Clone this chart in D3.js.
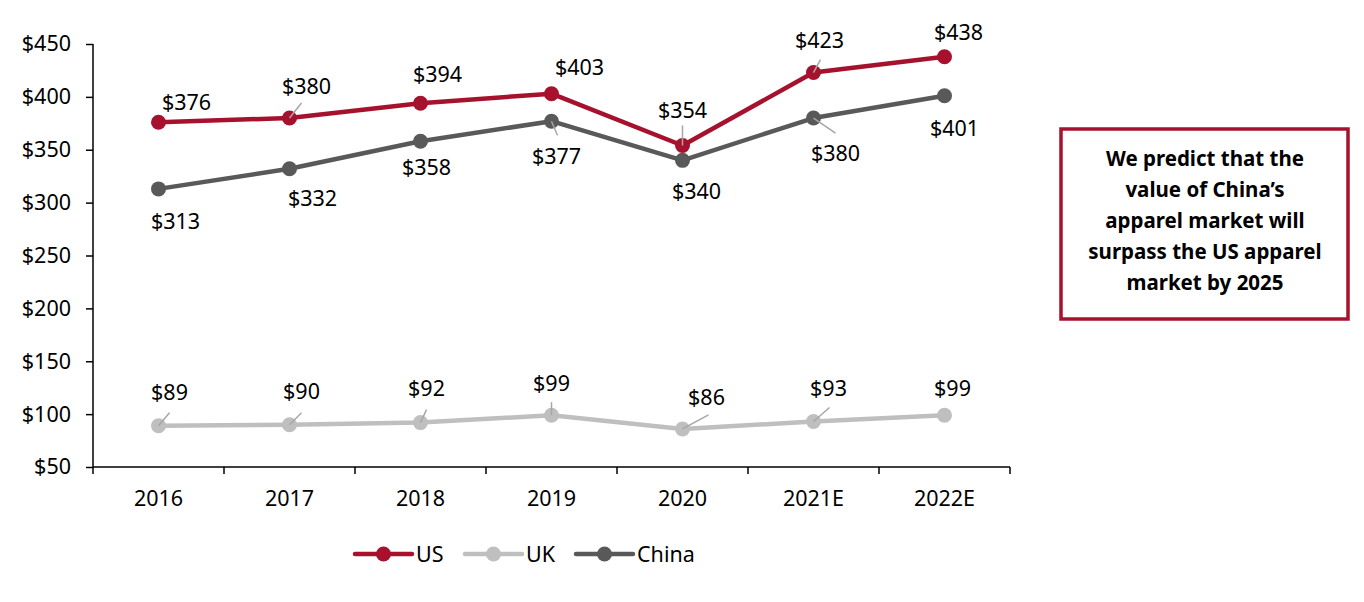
<!DOCTYPE html>
<html>
<head>
<meta charset="utf-8">
<script src="https://cdn.jsdelivr.net/npm/d3@7"></script>
<style>
  body { margin: 0; background: #fff; }
  svg { display: block; font-family: "Noto Sans", "Open Sans", sans-serif; }
  .axis path, .axis line { stroke: #000; stroke-width: 1.5; }
  .axis text { font-family: "Noto Sans", "Open Sans", sans-serif; font-size: 21.5px; fill: #000; }
  .lbl { font-size: 21.5px; fill: #000; }
  .leader { stroke: #a6a6a6; stroke-width: 1.5; }
</style>
</head>
<body>
<svg id="chart"></svg>
<script>
const years = ['2016', '2017', '2018', '2019', '2020', '2021E', '2022E']
const us = [376, 380, 394, 403, 354, 423, 438]
const uk = [89, 90, 92, 99, 86, 93, 99]
const china = [313, 332, 358, 377, 340, 380, 401]
const yTicks = [50, 100, 150, 200, 250, 300, 350, 400, 450]
const note = ['We predict that the', 'value of China\u2019s', 'apparel market will',
    'surpass the US apparel', 'market by 2025']

// label placement: text offset [dx, dy] and optional leader line end [lx, ly]
const usLabels = [
    { t: [28, -20] }, { t: [17, -32], l: [12, -15] }, { t: [17, -29] }, { t: [28, -26] },
    { t: [0, -35], l: [0, -20] }, { t: [6, -32], l: [7, -13] }, { t: [14, -24] }
]
const ukLabels = [
    { t: [11, -33], l: [11, -13] }, { t: [12, -33], l: [12, -12] }, { t: [6, -34], l: [6, -13] },
    { t: [0, -32], l: [0, -13] }, { t: [24, -32], l: [26, -14] }, { t: [15, -33], l: [16, -14] },
    { t: [8, -27] }
]
const chinaLabels = [
    { t: [17, 32] }, { t: [23, 29] }, { t: [6, 26] }, { t: [5, 35], l: [6, 14] },
    { t: [14, 31] }, { t: [22, 35], l: [22, 15] }, { t: [10, 32] }
]

const series = [
    { name: 'US', values: us, color: '#a6122d', labels: usLabels },
    { name: 'UK', values: uk, color: '#bfbfbf', labels: ukLabels },
    { name: 'China', values: china, color: '#595959', labels: chinaLabels }
]

const W = 1364, H = 602
const svg = d3.select('#chart').attr('width', W).attr('height', H)

const x = d3.scaleBand().domain(years).range([93, 1010])
const y = d3.scaleLinear().domain([50, 450]).range([467, 44])
const cx = d => x(d) + x.bandwidth() / 2

// Y axis
svg.append('g').classed('axis', true)
    .attr('transform', 'translate(93,0)')
    .call(d3.axisLeft(y).tickValues(yTicks).tickSize(7).tickPadding(15)
        .tickFormat(d => '$' + d))
    .call(g => g.select('.domain').attr('d', `M0,${y(450)}V${y(50)}`))

// X axis with ticks at band boundaries
const xAxis = svg.append('g').classed('axis', true)
    .attr('transform', `translate(0,${y(50)})`)
xAxis.append('line').attr('x1', 93).attr('x2', 1010).attr('y1', 0).attr('y2', 0)
xAxis.selectAll('line.tk')
    .data(years.map(d => x(d)).concat([x.range()[1]]))
    .enter().append('line').classed('tk', true)
    .attr('x1', d => d).attr('x2', d => d).attr('y1', 0).attr('y2', 7)
xAxis.selectAll('text')
    .data(years)
    .enter().append('text')
    .attr('x', d => cx(d)).attr('y', 39)
    .attr('text-anchor', 'middle')
    .text(d => d)

const line = d3.line().x((d, i) => cx(years[i])).y(d => y(d))

series.forEach(s => {
    const g = svg.append('g')
    g.append('path')
        .attr('d', line(s.values))
        .attr('fill', 'none')
        .attr('stroke', s.color)
        .attr('stroke-width', 4.5)
        .attr('stroke-linejoin', 'round')
    g.selectAll('circle')
        .data(s.values)
        .enter().append('circle')
        .attr('cx', (d, i) => cx(years[i]))
        .attr('cy', d => y(d))
        .attr('r', 7.5)
        .attr('fill', s.color)
})

// data labels and leaders drawn on top
series.forEach(s => {
    const g = svg.append('g')
    s.values.forEach((v, i) => {
        const px = cx(years[i]), py = y(v), lb = s.labels[i]
        if (lb.l) {
            g.append('line').classed('leader', true)
                .attr('x1', px).attr('y1', py)
                .attr('x2', px + lb.l[0]).attr('y2', py + lb.l[1])
        }
        g.append('text').classed('lbl', true)
            .attr('x', px + lb.t[0]).attr('y', py + lb.t[1])
            .attr('dy', '0.36em')
            .attr('text-anchor', 'middle')
            .text('$' + v)
    })
})

// Legend
const legend = svg.append('g').attr('transform', 'translate(355,554)')
const legX = [0, 110, 221]
series.forEach((s, i) => {
    const lg = legend.append('g').attr('transform', `translate(${legX[i]},0)`)
    lg.append('line').attr('x1', 0).attr('x2', 57).attr('y1', 0).attr('y2', 0)
        .attr('stroke', s.color).attr('stroke-width', 4.5).attr('stroke-linecap', 'round')
    lg.append('circle').attr('cx', 28.5).attr('cy', 0).attr('r', 7.5).attr('fill', s.color)
    lg.append('text').classed('lbl', true).attr('x', 61).attr('dy', '0.36em').text(s.name)
})

// Note box
const box = svg.append('g')
box.append('rect')
    .attr('x', 1061).attr('y', 129).attr('width', 287).attr('height', 190)
    .attr('fill', '#fff').attr('stroke', '#a6122d').attr('stroke-width', 3.5)
box.selectAll('text')
    .data(note)
    .enter().append('text')
    .attr('x', 1205).attr('y', (d, i) => 159 + i * 31)
    .attr('dy', '0.36em')
    .attr('text-anchor', 'middle')
    .attr('font-weight', 'bold')
    .attr('font-size', 20.5)
    .text(d => d)
</script>
</body>
</html>
